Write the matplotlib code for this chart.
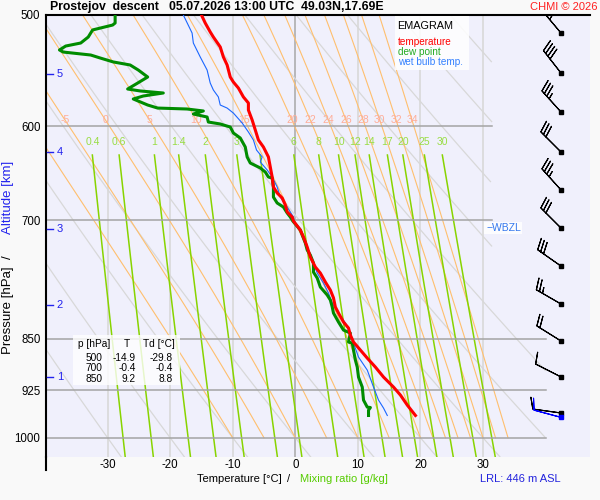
import numpy as np
import matplotlib
matplotlib.use('Agg')
import matplotlib.pyplot as plt
from matplotlib.lines import Line2D
from matplotlib.patches import Rectangle
from matplotlib.ticker import NullLocator, NullFormatter

plt.rcParams['font.family'] = ['Liberation Sans', 'DejaVu Sans']

# ---------------- data ----------------
temp_p = [500.0, 506.6, 514.1, 518.4, 526.9, 535.6, 542.7, 553.5, 558.1, 563.6, 571.9, 577.6,
          584.3, 593.9, 603.7, 613.7, 620.8, 631.0, 641.5, 652.1, 662.9, 669.4, 674.9, 682.7,
          690.6, 696.3, 700.9, 711.3, 719.5, 731.4, 743.5, 755.8, 763.3, 774.6, 784.9, 795.0,
          807.0, 815.0, 827.1, 835.3, 845.0, 854.7, 866.0, 877.5, 890.5, 905.2, 920.2, 932.3,
          947.8, 964.0]
temp_T = [-15.0, -14.4, -13.6, -13.1, -12.0, -11.5, -10.9, -10.4, -9.9, -9.1, -8.3, -7.5,
          -7.5, -6.9, -6.4, -5.9, -5.1, -4.3, -4.0, -3.7, -3.5, -2.9, -2.1, -1.6,
          -1.3, -0.5, -0.3, 0.8, 1.3, 1.9, 2.4, 3.2, 4.0, 4.8, 5.6, 6.1,
          6.4, 6.9, 7.7, 8.5, 8.8, 9.3, 10.4, 11.5, 12.8, 14.1, 15.7, 16.8,
          17.9, 19.2]

dew_p = [500.0, 506.6, 508.3, 512.4, 518.4, 523.5, 526.1, 529.5, 531.3, 533.9, 536.5, 540.0,
         542.7, 547.2, 553.5, 559.0, 564.5, 566.3, 568.2, 571.0, 573.8, 579.5, 582.4, 583.3,
         585.2, 588.1, 591.0, 595.9, 597.8, 600.8, 606.7, 611.7, 620.8, 631.0, 637.3, 642.5,
         646.8, 652.1, 653.2, 662.9, 673.9, 680.5, 685.0, 691.7, 696.3, 700.9, 711.3, 726.6,
         735.0, 741.1, 750.9, 762.1, 769.6, 781.0, 791.3, 797.8, 807.0, 815.0, 827.1, 838.1,
         842.2, 854.7, 856.1, 866.0, 880.4, 890.5, 905.2, 920.2, 940.0, 950.9, 951.5, 955.6,
         964.0]
dew_T = [-28.8, -28.8, -29.2, -32.4, -33.1, -34.3, -36.7, -37.7, -37.1, -32.7, -31.2, -29.1,
         -26.4, -25.1, -23.6, -25.2, -26.8, -24.8, -21.1, -24.3, -25.9, -23.6, -22.0, -17.3,
         -14.7, -16.3, -14.1, -13.9, -12.0, -10.4, -9.9, -8.8, -8.0, -7.7, -7.2, -5.6,
         -4.8, -4.3, -3.7, -3.5, -3.5, -2.9, -1.9, -1.3, -0.8, -0.4, 0.8, 1.6,
         1.9, 2.4, 2.9, 2.9, 3.5, 4.0, 5.1, 5.6, 5.9, 6.1, 6.9, 7.7,
         8.8, 8.5, 9.1, 9.3, 9.6, 9.9, 10.1, 10.7, 10.9, 11.5, 12.0, 11.7,
         11.7]

wb_p = [500.0, 515.0, 523.5, 535.6, 547.2, 559.0, 565.4, 571.9, 579.5, 582.4, 587.2, 596.8,
        605.7, 613.7, 623.9, 631.0, 636.2, 644.6, 652.1, 662.9, 673.9, 685.0, 696.3, 700.9,
        711.3, 731.4, 747.2, 763.3, 775.9, 788.7, 801.8, 815.0, 828.5, 842.2, 856.1, 876.0,
        894.9, 920.2, 940.0, 952.4, 964.0]
wb_T = [-17.9, -16.5, -16.3, -15.2, -14.1, -13.6, -13.1, -12.3, -12.0, -10.9, -9.9, -8.5,
        -7.5, -6.7, -6.2, -5.3, -5.6, -4.5, -3.7, -2.9, -2.4, -1.3, -0.3, -0.2,
        0.8, 1.9, 2.7, 3.5, 4.5, 5.3, 5.9, 6.9, 8.0, 8.8, 9.3, 10.1,
        11.5, 12.5, 13.3, 14.1, 14.7]

table_p = [500, 700, 850]
table_T = [-14.9, -0.4, 9.2]
table_Td = [-29.8, -0.4, 8.8]

isobars = [500, 600, 700, 850, 925, 1000]
isotherms = [-30, -20, -10, 0, 10, 20, 30]
temp_ticks = [-30, -20, -10, 0, 10, 20, 30]
dry_T1000 = [-30, -20, -10, 0, 10, 20, 30, 40, 50, 60, 70, 80, 90, 100]
moist_tw = [-10, -5, 0, 5, 10, 15, 20, 22, 24, 26, 28, 30, 32, 34]
moist_labels = [-5, 0, 5, 10, 15, 20, 22, 24, 26, 28, 30, 32, 34]
mix_w = [0.4, 0.6, 1, 1.4, 2, 3, 4, 6, 8, 10, 12, 14, 17, 20, 25, 30]
mix_labels = [0.4, 0.6, 1, 1.4, 2, 3, 6, 8, 10, 12, 14, 17, 20, 25, 30]

alt_km = [1, 2, 3, 4, 5]
alt_p = [905.2, 804.3, 710.2, 625.9, 550.8]

barb_p = [515.0, 549.9, 586.2, 625.9, 666.1, 709.0, 754.6, 803.0, 853.2, 905.0, 960.1]
barb_dir = [320, 322, 318, 315, 318, 315, 305, 300, 302, 297, 278]
barb_spd = [40, 40, 35, 30, 35, 30, 30, 25, 20, 10, 10]
sfc_p = [966.5]
sfc_dir = [285]
sfc_spd = [10]

wbzl_p = 709.0

# ---------------- layout ----------------
W, H = 600, 500
L, R, TOP, BOT = 46, 590, 15, 457
P_TOP, P_BOT = 500.0, 1031.9
T_MIN, T_MAX = -39.85, 47.1

fig = plt.figure(figsize=(6, 5), dpi=100, facecolor='#f9f9f9')
ax = fig.add_axes([L / W, 1 - BOT / H, (R - L) / W, (BOT - TOP) / H])
ax.set_facecolor('#f0f0fc')
ax.set_yscale('log')
ax.set_ylim(P_BOT, P_TOP)
ax.set_xlim(T_MIN, T_MAX)
for s in ['right', 'bottom']:
    ax.spines[s].set_visible(False)
for s in ['left', 'top']:
    ax.spines[s].set_linewidth(1.5)
    ax.spines[s].set_color('black')
ax.yaxis.set_minor_locator(NullLocator())
ax.yaxis.set_minor_formatter(NullFormatter())
ax.set_yticks(isobars)
ax.set_yticklabels([str(p) for p in isobars])
ax.set_xticks(temp_ticks)
ax.set_xticklabels([str(t) for t in temp_ticks])
ax.tick_params(axis='both', length=0, labelsize=8.3)
ax.tick_params(axis='y', pad=4)
ax.tick_params(axis='x', pad=1.5)

def ftext(x, y, s, **kw):
    return fig.text(x / W, 1 - y / H, s, **kw)

def clip_limit(p):
    p = np.asarray(p)
    return np.where(p < 800, 31.5, 40.0)

# isotherms
for t in isotherms:
    col = '#a8a8a8' if t == 0 else '#d6d6d6'
    ax.plot([t, t], [P_TOP, P_BOT], color=col, lw=1.1, zorder=1)

# dry adiabats
pp = np.exp(np.linspace(np.log(P_TOP), np.log(P_BOT), 200))
for t0 in dry_T1000:
    th = t0 + 273.15
    T = th * (pp / 1000.0) ** 0.2857 - 273.15
    T = np.where(T <= clip_limit(pp), T, np.nan)
    ax.plot(T, pp, color='#d8d8d8', lw=0.9, zorder=1)

# moist adiabats
def esat(tc):
    return 6.112 * np.exp(17.67 * tc / (tc + 243.5))

def dTdlnp(T, p):
    Rd, cp, Lv, eps = 287.04, 1005.7, 2.501e6, 0.622
    es = esat(T - 273.15)
    rs = eps * es / (p - es)
    return (Rd * T + Lv * rs) / (cp + Lv ** 2 * rs * eps / (Rd * T ** 2))

pm = np.exp(np.linspace(np.log(1000.0), np.log(495.0), 400))
for tw in moist_tw:
    T = tw + 273.15
    Ts = [T]
    for i in range(1, len(pm)):
        p0, p1 = pm[i - 1], pm[i]
        dl = np.log(p1) - np.log(p0)
        k1 = dTdlnp(T, p0)
        k2 = dTdlnp(T + k1 * dl / 2, np.exp(np.log(p0) + dl / 2))
        T = T + k2 * dl
        Ts.append(T)
    Tc = np.array(Ts) - 273.15
    Tc = np.where(Tc <= 40, Tc, np.nan)
    ax.plot(Tc, pm, color='#ffbf6e', lw=0.8, zorder=1.2)
    if tw in moist_labels:
        tl = np.interp(np.log(594.0), np.log(pm[::-1]), Tc[::-1])
        ax.text(tl, 594.0, str(tw), color='#ffad98', fontsize=7.5,
                ha='center', va='center', zorder=2)

# mixing ratio lines
pw = np.exp(np.linspace(np.log(629.0), np.log(P_BOT), 100))
def td_from_w(w, p):
    e = w * p / (622.0 + w)
    a = np.log(e / 6.112)
    return 243.5 * a / (17.67 - a)
for w in mix_w:
    ax.plot(td_from_w(w, pw), pw, color='#88d400', lw=1.1, zorder=1.3)
    if w in mix_labels:
        lab = ('%g' % w)
        ax.text(td_from_w(w, 629.0), 616.0, lab, color='#99dd44', fontsize=7.5,
                ha='center', va='center', zorder=2)

# isobars
for p in isobars[1:]:
    lim = float(clip_limit(p))
    ax.plot([T_MIN, lim], [p, p], color='#a4a4a4', lw=1.1, zorder=1.5)

# profiles
ax.plot(wb_T, wb_p, color='#1a66ff', lw=0.8, zorder=3)
ax.plot(dew_T, dew_p, color='#008c00', lw=2.2, zorder=3.1)
ax.plot(temp_T, temp_p, color='#ff0000', lw=2.2, zorder=3.2)

# altitude ticks
ytr = ax.get_yaxis_transform()
for km, p in zip(alt_km, alt_p):
    ax.plot([0.002, 0.013], [p, p], color='#2222ee', lw=1.0, transform=ytr, zorder=4)
    ax.text(0.02, p, str(km), color='#2222ee', fontsize=8, ha='left', va='center',
            transform=ytr, zorder=4)

# wind barbs
bx = (561 - 46) / (R - L)
d = np.radians(barb_dir)
u = -np.array(barb_spd) * np.sin(d)
v = -np.array(barb_spd) * np.cos(d)
ax.barbs(np.full(len(barb_p), bx), barb_p, u, v, transform=ytr, length=6.4,
         linewidth=0.8, color='black', zorder=4)
ax.plot(np.full(len(barb_p), bx), barb_p, 's', ms=2.3, color='black', transform=ytr, zorder=4)
ds = np.radians(sfc_dir)
us = -np.array(sfc_spd) * np.sin(ds)
vs = -np.array(sfc_spd) * np.cos(ds)
ax.barbs(np.full(1, bx), sfc_p, us, vs, transform=ytr, length=6.4,
         linewidth=0.8, color='#0000ff', zorder=4)
ax.plot(np.full(1, bx), sfc_p, 's', ms=2.3, color='#0000ff', transform=ytr, zorder=4)

# WBZL (box + label in figure space, drawn above the axes)
wbzl_y = TOP + 610 * np.log(wbzl_p / 500.0)
fig.patches.append(Rectangle((484 / W, 1 - (wbzl_y + 6) / H), 38 / W, 12 / H,
                             transform=fig.transFigure, facecolor='white', edgecolor='none',
                             alpha=0.85, zorder=1))
ftext(486, wbzl_y, '\u2212WBZL', color='#3377ee', fontsize=7.5, ha='left', va='center')

# legend box
fig.patches.append(Rectangle((395 / W, 1 - 70 / H), 74 / W, 54 / H, transform=fig.transFigure,
                             facecolor='white', edgecolor='none', alpha=0.85, zorder=1))
ftext(397, 26, 'EMAGRAM', fontsize=7.8, color='black', va='center', ha='left')
ftext(398, 42, 'temperature', fontsize=7.2, color='#ff0000', va='center', ha='left')
ftext(398, 52, 'dew point', fontsize=7.2, color='#22aa22', va='center', ha='left')
ftext(398, 62, 'wet bulb temp.', fontsize=7.2, color='#3380ff', va='center', ha='left')

# table box
fig.patches.append(Rectangle((73 / W, 1 - 385 / H), 107 / W, 50 / H, transform=fig.transFigure,
                             facecolor='white', edgecolor='none', alpha=0.8, zorder=1))
ftext(78, 344, 'p [hPa]', fontsize=7.3, ha='left', va='center')
ftext(127, 344, 'T', fontsize=7.3, ha='center', va='center')
ftext(143, 344, 'Td [\u00b0C]', fontsize=7.3, ha='left', va='center')
for i, (p, t, td) in enumerate(zip(table_p, table_T, table_Td)):
    yy = 358 + i * 10.3
    ftext(102, yy, '%d' % p, fontsize=7.3, ha='right', va='center')
    ftext(136, yy, '%.1f' % t, fontsize=7.3, ha='right', va='center')
    ftext(173, yy, '%.1f' % td, fontsize=7.3, ha='right', va='center')

# left spine extension
fig.add_artist(Line2D([L / W, L / W], [1 - BOT / H, 1 - 470 / H], color='black', lw=1.5,
                      transform=fig.transFigure))

# titles and labels
ftext(50, 7, 'Prostejov  descent   05.07.2026 13:00 UTC  49.03N,17.69E', fontsize=8.8,
      fontweight='bold', ha='left', va='center')
ftext(597, 7, 'CHMI \u00a9 2026', fontsize=8, color='#ff2020', ha='right', va='center')

ftext(8, 310, 'Pressure [hPa]', rotation=90, fontsize=9.5, ha='center', va='center')
ftext(8, 257, '/', rotation=90, fontsize=9.5, ha='center', va='center')
ftext(8, 197, 'Altitude [km]', rotation=90, fontsize=9.5, color='#2222ee', ha='center', va='center')

ftext(239, 479, 'Temperature [\u00b0C]', fontsize=8, ha='center', va='center')
ftext(289, 479, '/', fontsize=8, ha='center', va='center')
ftext(344, 479, 'Mixing ratio [g/kg]', fontsize=8, color='#55cc00', ha='center', va='center')
ftext(520, 479, 'LRL: 446 m ASL', fontsize=8, color='#2222dd', ha='center', va='center')

fig.savefig('out.png', dpi=100, facecolor=fig.get_facecolor())
